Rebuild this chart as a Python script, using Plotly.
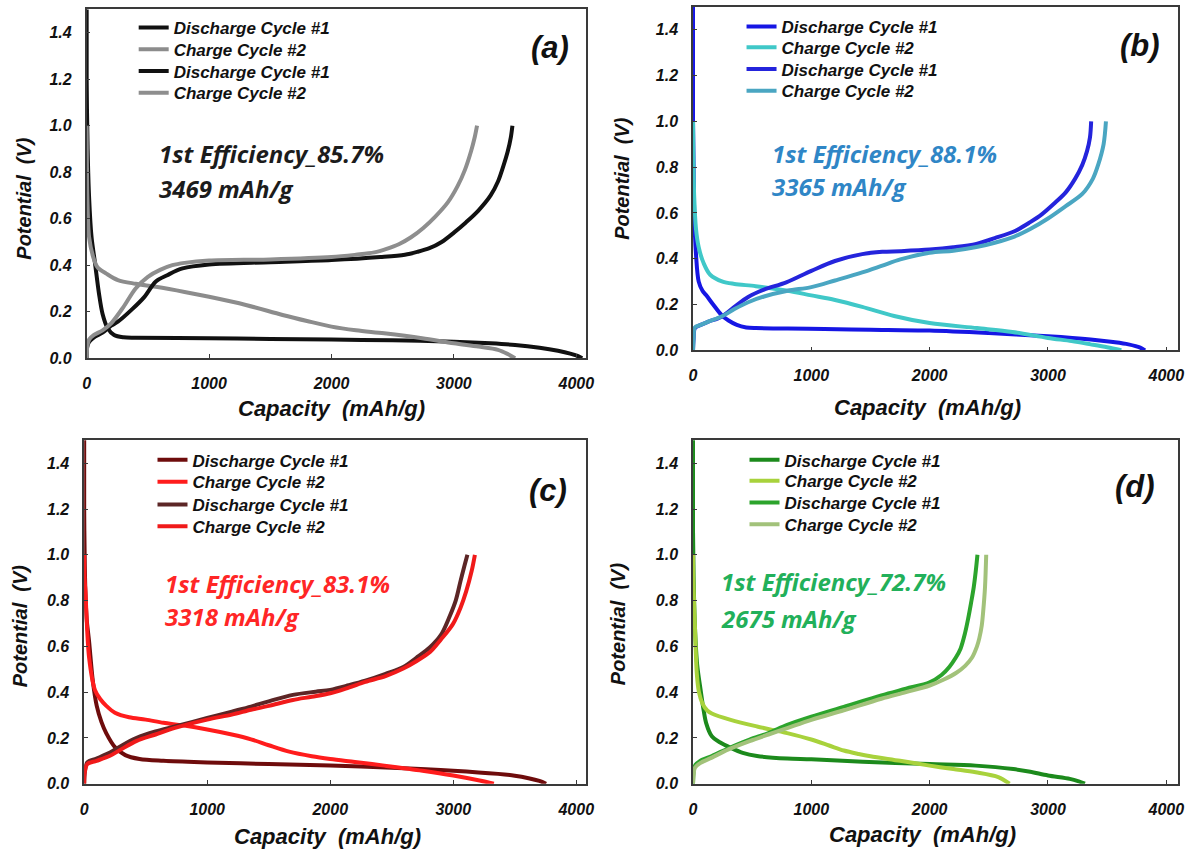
import plotly.graph_objects as go

# ---- Panel (a): capacity (mAh/g) and potential (V) ----
A_DIS1_X = [0, 0, 8, 20, 40, 68, 100, 130, 170, 224, 300, 400, 1000, 1500, 2000, 2500, 3000, 3300, 3500, 3700, 3850, 3950, 4010, 4048]
A_DIS1_Y = [1.55, 1.2, 0.9, 0.69, 0.52, 0.41, 0.28, 0.19, 0.13, 0.10, 0.09, 0.088, 0.086, 0.083, 0.08, 0.077, 0.071, 0.064, 0.057, 0.045, 0.032, 0.02, 0.01, 0.0]
A_DIS2_X = [0, 2, 6, 20, 53, 90, 160, 255, 400, 565, 800, 1000, 1300, 1600, 1800, 2000, 2200, 2430, 2740, 3000, 3200, 3360, 3440, 3500]
A_DIS2_Y = [1.0, 0.85, 0.69, 0.52, 0.436, 0.39, 0.364, 0.336, 0.32, 0.307, 0.285, 0.264, 0.229, 0.186, 0.16, 0.136, 0.12, 0.107, 0.086, 0.064, 0.05, 0.036, 0.018, 0.0]
A_CHG1_X = [0, 5, 20, 60, 130, 200, 255, 370, 472, 565, 658, 783, 1000, 1500, 2000, 2400, 2600, 2700, 2800, 2900, 3000, 3100, 3200, 3300, 3360, 3400, 3440, 3465, 3478]
A_CHG1_Y = [0.0, 0.05, 0.07, 0.09, 0.11, 0.14, 0.157, 0.21, 0.264, 0.33, 0.357, 0.386, 0.403, 0.413, 0.422, 0.435, 0.445, 0.457, 0.473, 0.5, 0.54, 0.585, 0.635, 0.7, 0.76, 0.82, 0.89, 0.95, 1.0]
A_CHG2_X = [0, 5, 20, 60, 130, 200, 300, 400, 500, 600, 700, 800, 1000, 1500, 2000, 2200, 2350, 2450, 2550, 2650, 2750, 2850, 2950, 3030, 3090, 3140, 3170, 3189]
A_CHG2_Y = [0.0, 0.05, 0.08, 0.1, 0.12, 0.15, 0.22, 0.3, 0.35, 0.38, 0.4, 0.41, 0.42, 0.425, 0.435, 0.445, 0.455, 0.47, 0.49, 0.52, 0.56, 0.61, 0.67, 0.74, 0.81, 0.89, 0.95, 1.0]

# ---- Panel (b) ----
B_DIS1_X = [0, 0, 5, 10, 25, 48, 80, 112, 170, 241, 300, 370, 450, 530, 800, 1109, 1500, 2000, 2500, 3000, 3360, 3550, 3680, 3780, 3820]
B_DIS1_Y = [1.55, 1.0, 0.8, 0.6, 0.42, 0.3, 0.26, 0.24, 0.2, 0.154, 0.13, 0.111, 0.1, 0.097, 0.095, 0.093, 0.09, 0.086, 0.075, 0.061, 0.047, 0.036, 0.026, 0.012, 0.0]
B_DIS2_X = [0, 3, 10, 25, 48, 90, 145, 250, 350, 530, 800, 1000, 1200, 1430, 1700, 2000, 2400, 2700, 3000, 3200, 3360, 3500, 3620]
B_DIS2_Y = [1.0, 0.85, 0.67, 0.53, 0.45, 0.38, 0.33, 0.3, 0.29, 0.28, 0.26, 0.24, 0.22, 0.19, 0.15, 0.119, 0.097, 0.08, 0.054, 0.04, 0.026, 0.013, 0.0]
B_CHG1_X = [0, 5, 16, 60, 130, 241, 350, 466, 600, 788, 1000, 1200, 1430, 1600, 1752, 2000, 2200, 2395, 2550, 2717, 2850, 2950, 3050, 3150, 3230, 3290, 3330, 3355, 3365]
B_CHG1_Y = [0.0, 0.05, 0.097, 0.11, 0.125, 0.147, 0.19, 0.233, 0.265, 0.297, 0.347, 0.39, 0.42, 0.43, 0.433, 0.44, 0.45, 0.465, 0.49, 0.52, 0.56, 0.595, 0.64, 0.69, 0.75, 0.81, 0.87, 0.93, 1.0]
B_CHG2_X = [0, 5, 16, 60, 130, 250, 350, 466, 600, 800, 1000, 1200, 1430, 1600, 1752, 2000, 2200, 2395, 2550, 2717, 2850, 3000, 3150, 3290, 3380, 3424, 3470, 3490]
B_CHG2_Y = [0.0, 0.05, 0.1, 0.11, 0.125, 0.15, 0.18, 0.21, 0.235, 0.26, 0.276, 0.305, 0.34, 0.37, 0.397, 0.426, 0.435, 0.451, 0.47, 0.497, 0.53, 0.576, 0.63, 0.683, 0.75, 0.81, 0.9, 1.0]

# ---- Panel (c) ----
C_DIS1_X = [0, 0, 5, 10, 20, 40, 70, 102, 140, 180, 250, 334, 450, 644, 1000, 1500, 2000, 2500, 3000, 3365, 3500, 3612, 3700, 3755]
C_DIS1_Y = [1.55, 1.2, 0.95, 0.84, 0.72, 0.62, 0.45, 0.34, 0.27, 0.22, 0.16, 0.125, 0.108, 0.1, 0.093, 0.086, 0.079, 0.07, 0.057, 0.043, 0.035, 0.024, 0.012, 0.0]
C_DIS2_X = [0, 3, 10, 40, 87, 130, 180, 250, 365, 500, 644, 800, 1000, 1200, 1356, 1500, 1666, 1850, 2000, 2200, 2440, 2750, 3000, 3214, 3330]
C_DIS2_Y = [1.0, 0.9, 0.84, 0.55, 0.41, 0.37, 0.34, 0.31, 0.29, 0.28, 0.266, 0.255, 0.237, 0.215, 0.194, 0.168, 0.14, 0.12, 0.108, 0.095, 0.079, 0.057, 0.036, 0.014, 0.0]
C_CHG1_X = [0, 5, 25, 100, 210, 300, 427, 580, 737, 1000, 1200, 1356, 1500, 1696, 1882, 2000, 2150, 2285, 2450, 2594, 2700, 2811, 2900, 2966, 3020, 3059, 3090, 3115]
C_CHG1_Y = [0.0, 0.05, 0.093, 0.11, 0.136, 0.165, 0.2, 0.228, 0.25, 0.287, 0.315, 0.337, 0.36, 0.388, 0.402, 0.41, 0.43, 0.45, 0.48, 0.51, 0.55, 0.596, 0.65, 0.725, 0.8, 0.885, 0.95, 1.0]
C_CHG2_X = [0, 5, 25, 100, 210, 300, 427, 580, 737, 1000, 1200, 1356, 1500, 1696, 1850, 2000, 2150, 2285, 2450, 2594, 2700, 2811, 2900, 2997, 3060, 3105, 3150, 3176]
C_CHG2_Y = [0.0, 0.05, 0.086, 0.1, 0.122, 0.15, 0.187, 0.215, 0.244, 0.28, 0.302, 0.323, 0.34, 0.366, 0.38, 0.395, 0.42, 0.445, 0.47, 0.503, 0.535, 0.575, 0.63, 0.697, 0.77, 0.84, 0.93, 1.0]

# ---- Panel (d) ----
D_DIS1_X = [0, 0, 5, 16, 35, 64, 90, 111, 159, 230, 318, 420, 541, 796, 1000, 1433, 2000, 2389, 2707, 2850, 3000, 3185, 3260, 3312]
D_DIS1_Y = [1.55, 1.1, 0.9, 0.69, 0.52, 0.41, 0.32, 0.265, 0.207, 0.18, 0.157, 0.135, 0.121, 0.11, 0.107, 0.096, 0.086, 0.079, 0.064, 0.052, 0.036, 0.021, 0.01, 0.0]
D_DIS2_X = [0, 3, 16, 32, 50, 80, 120, 159, 318, 541, 796, 1000, 1150, 1274, 1400, 1500, 1750, 2000, 2200, 2389, 2580, 2675]
D_DIS2_Y = [1.0, 0.88, 0.69, 0.48, 0.4, 0.35, 0.32, 0.307, 0.279, 0.25, 0.221, 0.193, 0.167, 0.145, 0.13, 0.12, 0.1, 0.079, 0.064, 0.05, 0.029, 0.0]
D_CHG1_X = [0, 5, 16, 60, 159, 300, 478, 637, 796, 1000, 1274, 1592, 1800, 2000, 2100, 2166, 2220, 2261, 2300, 2325, 2350, 2373, 2390, 2404]
D_CHG1_Y = [0.0, 0.05, 0.079, 0.1, 0.121, 0.155, 0.193, 0.221, 0.257, 0.293, 0.336, 0.386, 0.415, 0.443, 0.475, 0.51, 0.55, 0.59, 0.66, 0.72, 0.79, 0.86, 0.93, 1.0]
D_CHG2_X = [0, 5, 16, 60, 159, 300, 478, 637, 796, 1000, 1274, 1592, 1800, 2000, 2120, 2229, 2300, 2357, 2400, 2420, 2440, 2452, 2468, 2478]
D_CHG2_Y = [0.0, 0.04, 0.07, 0.09, 0.114, 0.15, 0.186, 0.215, 0.243, 0.279, 0.321, 0.371, 0.4, 0.429, 0.455, 0.486, 0.515, 0.55, 0.6, 0.636, 0.69, 0.75, 0.86, 1.0]

LEGEND_NAMES = ["Discharge Cycle #1", "Charge Cycle #2", "Discharge Cycle #1", "Charge Cycle #2"]
PANEL_TAGS = ["(a)", "(b)", "(c)", "(d)"]
EFFICIENCY_TEXT = ["1st Efficiency_85.7%", "1st Efficiency_88.1%", "1st Efficiency_83.1%", "1st Efficiency_72.7%"]
CAPACITY_TEXT = ["3469 mAh/g", "3365 mAh/g", "3318 mAh/g", "2675 mAh/g"]
X_TITLE = "Capacity  (mAh/g)"
Y_TITLE = "Potential  (V)"
X_TICKS = [0, 1000, 2000, 3000, 4000]
Y_TICKS = [0.0, 0.2, 0.4, 0.6, 0.8, 1.0, 1.2, 1.4]

W, H = 1198, 860

# pixel layout of each panel: plot box, legend rows, tag, notes and axis titles
panels = [
    dict(series=[(A_DIS1_X, A_DIS1_Y), (A_DIS2_X, A_DIS2_Y), (A_CHG1_X, A_CHG1_Y), (A_CHG2_X, A_CHG2_Y)],
         colors=["#111111", "#8c8c8c", "#111111", "#8e8e8e"], note="#1c1c1c",
         xpx=(83.5, 588), ypx=(9.5, 362), xmax=4080,
         leg_x=131, leg_rows=(28, 50, 72, 94), tag=(552, 48), eff=(155, 155, 190),
         xtitle=(331, 413), ytitle=(20, 200)),
    dict(series=[(B_DIS1_X, B_DIS1_Y), (B_DIS2_X, B_DIS2_Y), (B_CHG1_X, B_CHG1_Y), (B_CHG2_X, B_CHG2_Y)],
         colors=["#1616e4", "#40c8c8", "#2424dc", "#4aa6c2"], note="#2f86c6",
         xpx=(696, 1186), ypx=(7, 354), xmax=4100,
         leg_x=745, leg_rows=(27, 48, 70, 92), tag=(1147, 46), eff=(774, 155, 188),
         xtitle=(933, 412), ytitle=(624, 180)),
    dict(series=[(C_DIS1_X, C_DIS1_Y), (C_DIS2_X, C_DIS2_Y), (C_CHG1_X, C_CHG1_Y), (C_CHG2_X, C_CHG2_Y)],
         colors=["#6e0c0c", "#ff1c1c", "#5c2626", "#f01a1a"], note="#ff2626",
         xpx=(81, 588), ypx=(445, 792), xmax=4080,
         leg_x=150, leg_rows=(465, 487, 510, 532), tag=(549, 496), eff=(161, 590, 623),
         xtitle=(327, 845), ytitle=(17, 632)),
    dict(series=[(D_DIS1_X, D_DIS1_Y), (D_DIS2_X, D_DIS2_Y), (D_CHG1_X, D_CHG1_Y), (D_CHG2_X, D_CHG2_Y)],
         colors=["#1c8a1c", "#a8d23c", "#2ca42c", "#a2c27a"], note="#22b05a",
         xpx=(696, 1186), ypx=(445, 792), xmax=4100,
         leg_x=748, leg_rows=(465, 486, 508, 530), tag=(1142, 492), eff=(722, 588, 625),
         xtitle=(928, 843), ytitle=(621, 630)),
]

ARIAL = "Liberation Sans, Arial"
TICK_FONT = dict(family=ARIAL, size=16, color="#111111", weight="bold", style="italic")
XTITLE_FONT = dict(family=ARIAL, size=22, color="#111111", weight="bold", style="italic")
YTITLE_FONT = dict(family=ARIAL, size=20, color="#111111", weight="bold", style="italic")
LEGEND_FONT = dict(family=ARIAL, size=17, color="#111111", weight="bold", style="italic")
NOTE_FONT_FAMILY = "Open Sans, Lato, sans-serif"

fig = go.Figure()
layout = dict(width=W, height=H, margin=dict(l=0, r=0, t=0, b=0),
              paper_bgcolor="white", plot_bgcolor="white", showlegend=True)
annotations = []

for i, p in enumerate(panels):
    k = "" if i == 0 else str(i + 1)
    xa, ya = "x" + k, "y" + k
    for j, (xs, ys) in enumerate(p["series"]):
        idx = i * 4 + j
        leg_name = "legend" if idx == 0 else "legend%d" % (idx + 1)
        fig.add_trace(go.Scatter(
            x=xs, y=ys, mode="lines", name=LEGEND_NAMES[j],
            line=dict(color=p["colors"][j], width=4, shape="spline", smoothing=0.9),
            xaxis=xa, yaxis=ya, legend=leg_name, hoverinfo="skip",
        ))
        # one legend box per entry so each row sits at its own height
        layout[leg_name] = dict(x=p["leg_x"] / W, y=1 - (p["leg_rows"][j] - 18) / H,
                                xanchor="left", yanchor="top", xref="paper", yref="paper",
                                bgcolor="rgba(0,0,0,0)", borderwidth=0, font=LEGEND_FONT,
                                itemwidth=30)

    x0, x1 = p["xpx"]
    y0, y1 = p["ypx"]
    axis_common = dict(showline=True, mirror=True, linecolor="#3a3a3a", linewidth=1.5,
                       showgrid=False, zeroline=False, ticks="inside", ticklen=4,
                       tickcolor="#3a3a3a", tickwidth=1, tickfont=TICK_FONT,
                       ticklabelstandoff=10)
    layout["xaxis" + k] = dict(axis_common, domain=[x0 / W, x1 / W], range=[0, p["xmax"]],
                               tickvals=X_TICKS, anchor=ya)
    layout["yaxis" + k] = dict(axis_common, domain=[1 - y1 / H, 1 - y0 / H], range=[0, 1.5],
                               tickvals=Y_TICKS, tickformat=".1f", anchor=xa)

    tx, ty = p["xtitle"]
    annotations.append(dict(text=X_TITLE, x=tx / W, y=1 - ty / H, xref="paper", yref="paper",
                            xanchor="center", yanchor="middle", showarrow=False, font=XTITLE_FONT))
    tx, ty = p["ytitle"]
    annotations.append(dict(text=Y_TITLE, x=tx / W, y=1 - ty / H, xref="paper", yref="paper",
                            xanchor="center", yanchor="middle", showarrow=False, textangle=-90,
                            font=YTITLE_FONT))

    tx, ty = p["tag"]
    annotations.append(dict(text=PANEL_TAGS[i], x=tx / W, y=1 - ty / H, xref="paper", yref="paper",
                            xanchor="center", yanchor="middle", showarrow=False,
                            font=dict(family=ARIAL, size=31, color="#111111",
                                      weight="bold", style="italic")))
    ex, ey1, ey2 = p["eff"]
    for txt, ey in ((EFFICIENCY_TEXT[i], ey1), (CAPACITY_TEXT[i], ey2)):
        annotations.append(dict(text=txt, x=ex / W, y=1 - ey / H, xref="paper", yref="paper",
                                xanchor="left", yanchor="middle", showarrow=False,
                                font=dict(family=NOTE_FONT_FAMILY, size=24, color=p["note"],
                                          weight="bold", style="italic")))

layout["annotations"] = annotations
fig.update_layout(**layout)
fig.write_html("out.html")
